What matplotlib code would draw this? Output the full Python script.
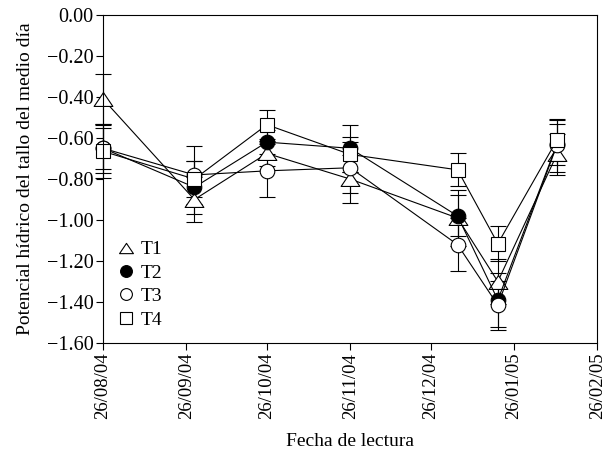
import matplotlib
matplotlib.use("Agg")
import matplotlib.pyplot as plt
from matplotlib.path import Path
from datetime import datetime

plt.rcParams['font.family'] = ['Liberation Serif', 'DejaVu Serif']

# Fechas de lectura
fechas = ["26/08/04", "29/09/04", "26/10/04", "26/11/04", "05/01/05", "20/01/05", "11/02/05"]
tratamientos = ["T1", "T2", "T3", "T4"]

# Potencial hídrico medio (MPa) por tratamiento
t1 = [-0.41, -0.90, -0.675, -0.80, -0.99, -1.30, -0.68]
t2 = [-0.65, -0.84, -0.62, -0.65, -0.98, -1.39, -0.63]
t3 = [-0.65, -0.78, -0.76, -0.745, -1.12, -1.415, -0.635]
t4 = [-0.665, -0.80, -0.535, -0.68, -0.755, -1.115, -0.61]

# Error estándar
e1 = [0.12, 0.11, 0.06, 0.115, 0.135, 0.11, 0.10]
e2 = [0.12, 0.13, 0.06, 0.115, 0.10, 0.13, 0.10]
e3 = [0.10, 0.14, 0.13, 0.125, 0.13, 0.12, 0.13]
e4 = [0.13, 0.09, 0.07, 0.085, 0.08, 0.085, 0.10]

ticks = ["26/08/04", "26/09/04", "26/10/04", "26/11/04", "26/12/04", "26/01/05", "26/02/05"]

x = [datetime.strptime(f, "%d/%m/%y") for f in fechas]
xt = [datetime.strptime(f, "%d/%m/%y") for f in ticks]

fig = plt.figure(figsize=(6.1, 4.55), dpi=100)
ax = fig.add_axes([0.169, 0.246, 0.81, 0.721])

# triángulo algo achatado, cerrado
tri = Path([(0, 1), (-1.35, -1), (1.35, -1), (0, 1)],
           [Path.MOVETO, Path.LINETO, Path.LINETO, Path.CLOSEPOLY])
estilos = [(tri, "white", 13.5, 10), ("o", "black", 10.5, 8.5),
           ("o", "white", 10.5, 8.5), ("s", "white", 10.5, 8.5)]
for nombre, y, e, (m, fc, ms, msl) in zip(tratamientos, [t1, t2, t3, t4], [e1, e2, e3, e4], estilos):
    lin, caps, barras = ax.errorbar(x, y, yerr=e, color="black", lw=0.8, elinewidth=0.8,
                                    capsize=5.5, capthick=0.8, marker=m, mfc=fc, mec="black",
                                    mew=0.8, ms=ms)
    lin.set_clip_on(False)
    for c in caps:
        c.set_clip_on(False)
    for b in barras:
        b.set_clip_on(False)
    ax.plot([], [], ls="none", marker=m, mfc=fc, mec="black", mew=0.8, ms=msl, label=nombre)

ax.set_ylim(-1.6, 0.0)
ax.set_yticks([0, -0.2, -0.4, -0.6, -0.8, -1.0, -1.2, -1.4, -1.6])
ax.yaxis.set_major_formatter(plt.FuncFormatter(lambda v, p: f"{v:.2f}".replace("-", "\u2212")))
ax.set_xlim(xt[0], xt[-1])
ax.set_xticks(xt)
ax.set_xticklabels(ticks, rotation=90)
ax.tick_params(direction="out", length=5, width=0.8, colors="black", pad=2)
ax.tick_params(axis="x", labelsize=13.5)
ax.tick_params(axis="y", labelsize=14.5)
for s in ax.spines.values():
    s.set_linewidth(0.8)

ax.set_xlabel("Fecha de lectura", fontsize=14, labelpad=10)
ax.set_ylabel("Potencial hídrico del tallo del medio día", fontsize=14, labelpad=9)

ax.legend(loc="lower left", frameon=False, fontsize=14, handletextpad=0.3,
          handlelength=1.0, labelspacing=0.3, borderaxespad=0.0, bbox_to_anchor=(0.01, 0.02))

fig.savefig("out.png", dpi=100)
